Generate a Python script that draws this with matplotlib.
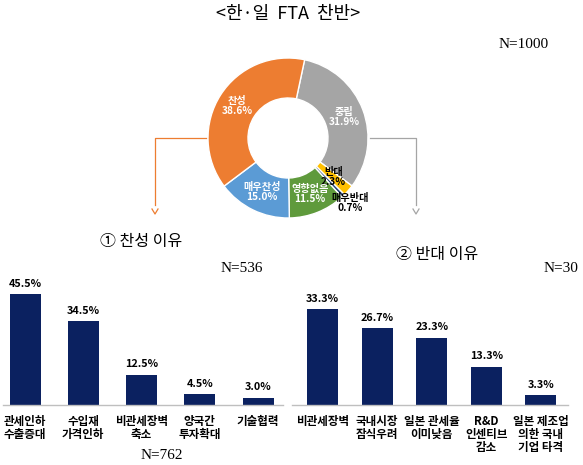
import numpy as np
import matplotlib
matplotlib.use("Agg")
import matplotlib.pyplot as plt
from matplotlib.lines import Line2D

plt.rcParams['font.family'] = ['Noto Sans CJK KR', 'DejaVu Sans']

# ---- data ----
pie_labels = ['중립', '반대', '매우반대', '영향없음', '매우찬성', '찬성']
pie_values = [31.9, 2.3, 0.7, 11.5, 15.0, 38.6]
pie_colors = ['#A5A5A5', '#FFC000', '#264478', '#5F9A3C', '#5B9BD5', '#ED7D31']
pie_text_colors = ['white', 'black', 'black', 'white', 'white', 'white']
pie_label_radius = [0.75, 0.75, 1.12, 0.75, 0.75, 0.75]

pro_cats = ['관세인하\n수출증대', '수입재\n가격인하', '비관세장벽\n축소', '양국간\n투자확대', '기술협력']
pro_vals = [45.5, 34.5, 12.5, 4.5, 3.0]

con_cats = ['비관세장벽', '국내시장\n잠식우려', '일본 관세율\n이미낮음', 'R&D\n인센티브\n감소', '일본 제조업\n의한 국내\n기업 타격']
con_vals = [33.3, 26.7, 23.3, 13.3, 3.3]

W, H = 583, 465
fig = plt.figure(figsize=(W / 100, H / 100), dpi=100)
fig.patch.set_facecolor('white')

def fx(px):
    return px / W

def fy(py):
    return 1 - py / H

# ---- donut ----
cx, cy, R = 288, 138, 80
axp = fig.add_axes([fx(cx - R), fy(cy + R), 2 * R / W, 2 * R / H])
start = 78
wedges, _ = axp.pie(pie_values, colors=pie_colors, startangle=start, counterclock=False,
                    radius=1.0, wedgeprops=dict(width=0.5, edgecolor='white', linewidth=1.0))
axp.set_xlim(-1, 1)
axp.set_ylim(-1, 1)
axp.set_aspect('auto')
axp.axis('off')
cum = 0
for lab, v, tc, rr in zip(pie_labels, pie_values, pie_text_colors, pie_label_radius):
    mid = np.deg2rad(start - (cum + v / 2) * 3.6)
    cum += v
    axp.text(rr * np.cos(mid), rr * np.sin(mid), f'{lab}\n{v:.1f}%', ha='center', va='center',
             fontsize=7.3, fontweight='bold', color=tc, linespacing=1.0)

fig.text(fx(288), fy(14), '<한·일  FTA  찬반>', ha='center', va='center', fontsize=13)
fig.text(fx(549), fy(45), 'N=1000', ha='right', va='center', fontsize=11,
         family=['Liberation Serif'])

# connectors
fig.add_artist(Line2D([fx(206), fx(155), fx(155)], [fy(138), fy(138), fy(205)],
                      transform=fig.transFigure, color='#ED7D31', lw=0.9))
fig.add_artist(Line2D([fx(370), fx(416), fx(416)], [fy(138), fy(138), fy(205)],
                      transform=fig.transFigure, color='#A5A5A5', lw=0.9))
for xx, col in [(155, '#ED7D31'), (416, '#A5A5A5')]:
    fig.add_artist(Line2D([fx(xx - 3), fx(xx), fx(xx + 3)], [fy(209), fy(214), fy(209)],
                          transform=fig.transFigure, color=col, lw=0.9))

bar_color = '#0B2160'

def bar_panel(left_px, right_px, base_px, c0, step, ppu, ymax, cats, vals):
    top_px = base_px - ymax * ppu
    ax = fig.add_axes([fx(left_px), fy(base_px), (right_px - left_px) / W, (base_px - top_px) / H])
    x = np.arange(len(vals))
    ax.bar(x, vals, width=31 / step, color=bar_color)
    ax.set_xlim((left_px - c0) / step, (right_px - c0) / step)
    ax.set_ylim(0, ymax)
    for s in ['top', 'left', 'right']:
        ax.spines[s].set_visible(False)
    ax.spines['bottom'].set_color('#BFBFBF')
    ax.spines['bottom'].set_linewidth(1.0)
    ax.set_yticks([])
    ax.set_xticks(x)
    ax.set_xticklabels(cats, fontsize=8.3, fontweight='bold', linespacing=1.0)
    ax.tick_params(axis='x', length=0, pad=7)
    for xi, v in zip(x, vals):
        ax.annotate(f'{v:.1f}%', (xi, v), xytext=(0, 4), textcoords='offset points',
                    ha='center', va='bottom', fontsize=7.8, fontweight='bold')
    ax.patch.set_alpha(0)
    return ax

bar_panel(3, 283, 405, 25, 58.25, 2.43, 50, pro_cats, pro_vals)
bar_panel(292, 568, 405, 322.5, 54.6, 2.88, 40, con_cats, con_vals)

fig.text(fx(141), fy(241), '① 찬성 이유', ha='center', va='center', fontsize=11.5)
fig.text(fx(263), fy(268), 'N=536', ha='right', va='center', fontsize=11,
         family=['Liberation Serif'])
fig.text(fx(162), fy(455), 'N=762', ha='center', va='center', fontsize=11,
         family=['Liberation Serif'])
fig.text(fx(437), fy(255), '② 반대 이유', ha='center', va='center', fontsize=11.5)
fig.text(fx(578), fy(268), 'N=30', ha='right', va='center', fontsize=11,
         family=['Liberation Serif'])

fig.savefig('out.png', dpi=100, facecolor='white')
